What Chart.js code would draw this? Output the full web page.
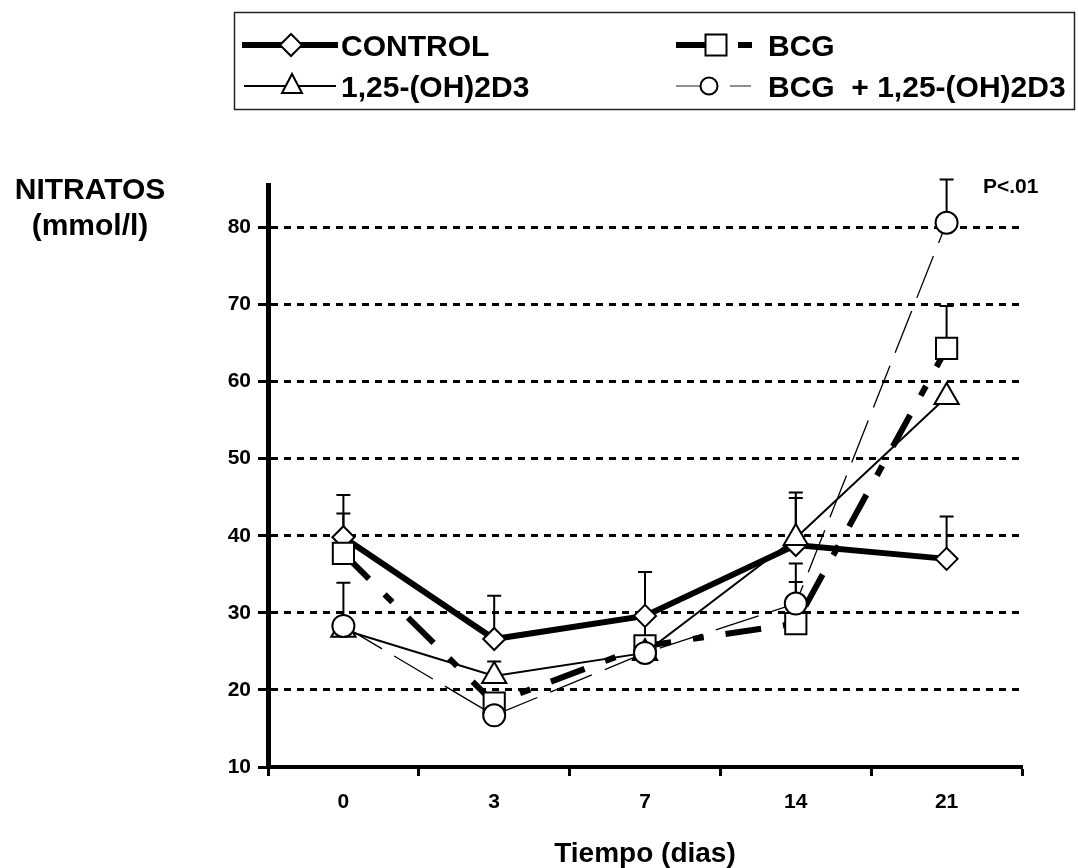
<!DOCTYPE html>
<html>
<head>
<meta charset="utf-8">
<script src="https://cdn.jsdelivr.net/npm/chart.js@4.4.1/dist/chart.umd.min.js"></script>
<style>
  html, body { margin: 0; padding: 0; background: #fff; }
  #wrap { width: 1078px; height: 868px; position: relative; }
</style>
</head>
<body>
<div id="wrap"><canvas id="c" width="1078" height="868"></canvas></div>
<script>
// ---- data ----
const categories = ['0', '3', '7', '14', '21'];
const yTickValues = [10, 20, 30, 40, 50, 60, 70, 80];

const controlValues = [39.8, 26.6, 29.6, 38.8, 37.0];
const controlErr    = [5.5, 5.6, 5.7, 6.1, 5.5];

const bcgValues = [37.7, 18.3, 25.7, 28.6, 64.3];
const bcgErr    = [5.2, null, 4.0, 5.4, 5.5];

const d3Values = [27.8, 21.8, 24.8, 39.7, 58.0];
const d3Err    = [null, 1.9, null, 5.9, null];

const bcgD3Values = [28.3, 16.7, 24.8, 31.2, 80.6];
const bcgD3Err    = [5.6, null, null, 5.2, 5.6];

const seriesLabels = ['CONTROL', 'BCG', '1,25-(OH)2D3', 'BCG  + 1,25-(OH)2D3'];
const errorSets = [controlErr, bcgErr, d3Err, bcgD3Err];

const FONT = "'Liberation Sans', Arial, Helvetica, sans-serif";

// ---- plugins ----
const errorBars = {
  id: 'errorBars',
  beforeDatasetsDraw(chart) {
    const ctx = chart.ctx;
    const yScale = chart.scales.y;
    chart.data.datasets.forEach((ds, i) => {
      const meta = chart.getDatasetMeta(i);
      const errs = errorSets[i];
      ctx.save();
      ctx.strokeStyle = '#000';
      ctx.lineWidth = 2;
      ctx.setLineDash([]);
      meta.data.forEach((pt, j) => {
        if (errs[j] == null) return;
        const top = yScale.getPixelForValue(ds.data[j] + errs[j]);
        ctx.beginPath();
        ctx.moveTo(pt.x, pt.y);
        ctx.lineTo(pt.x, top);
        ctx.moveTo(pt.x - 7, top);
        ctx.lineTo(pt.x + 7, top);
        ctx.stroke();
      });
      ctx.restore();
    });
  }
};

function marker(ctx, style, x, y, r) {
  ctx.save();
  ctx.setLineDash([]);
  ctx.fillStyle = '#fff';
  ctx.strokeStyle = '#000';
  ctx.lineWidth = 2;
  ctx.beginPath();
  if (style === 'rectRot') {
    ctx.moveTo(x - r, y); ctx.lineTo(x, y - r); ctx.lineTo(x + r, y); ctx.lineTo(x, y + r); ctx.closePath();
  } else if (style === 'rect') {
    ctx.rect(x - r, y - r, 2 * r, 2 * r);
  } else if (style === 'triangle') {
    ctx.moveTo(x, y - r * 1.2); ctx.lineTo(x + r, y + r * 0.7); ctx.lineTo(x - r, y + r * 0.7); ctx.closePath();
  } else {
    ctx.arc(x, y, r, 0, Math.PI * 2);
  }
  ctx.fill();
  ctx.stroke();
  ctx.restore();
}

function seg(ctx, x1, x2, y, w, color) {
  ctx.save();
  ctx.setLineDash([]);
  ctx.strokeStyle = color || '#000';
  ctx.lineWidth = w;
  ctx.beginPath();
  ctx.moveTo(x1, y); ctx.lineTo(x2, y);
  ctx.stroke();
  ctx.restore();
}

const decorations = {
  id: 'decorations',
  afterDraw(chart) {
    const ctx = chart.ctx;
    ctx.save();
    ctx.fillStyle = '#000';
    ctx.textBaseline = 'alphabetic';

    // y-axis title (horizontal, top-left)
    ctx.font = 'bold 30px ' + FONT;
    ctx.textAlign = 'center';
    ctx.fillText('NITRATOS', 90, 199);
    ctx.fillText('(mmol/l)', 90, 235);

    // significance note
    ctx.font = 'bold 21px ' + FONT;
    ctx.textAlign = 'left';
    ctx.fillText('P<.01', 983, 193);

    // legend box
    ctx.strokeStyle = '#222';
    ctx.lineWidth = 1.5;
    ctx.strokeRect(234.5, 12.5, 840, 97);

    const r1 = 45, r2 = 86;
    // CONTROL
    seg(ctx, 242, 338, r1, 6);
    marker(ctx, 'rectRot', 291, r1, 11);
    // BCG
    seg(ctx, 676, 706, r1, 6);
    marker(ctx, 'rect', 716, r1, 10.5);
    seg(ctx, 738, 752, r1, 6);
    // 1,25-(OH)2D3
    seg(ctx, 244, 336, r2, 2);
    marker(ctx, 'triangle', 292, r2, 10);
    // BCG + 1,25
    seg(ctx, 676, 700, r2, 1.2, '#444');
    marker(ctx, 'circle', 709, r2, 8.5);
    seg(ctx, 730, 751, r2, 1.2, '#444');

    ctx.font = 'bold 30px ' + FONT;
    ctx.fillStyle = '#000';
    ctx.textAlign = 'left';
    ctx.fillText(seriesLabels[0], 341, r1 + 11);
    ctx.fillText(seriesLabels[1], 768, r1 + 11);
    ctx.fillText(seriesLabels[2], 341, r2 + 11);
    ctx.fillText(seriesLabels[3], 768, r2 + 11);
    ctx.restore();
  }
};

// ---- chart ----
const ds = (label, data, style, radius, width, dash, order) => ({
  label, data,
  borderColor: '#000',
  borderWidth: width,
  borderDash: dash,
  borderCapStyle: 'butt',
  fill: false,
  tension: 0,
  pointStyle: style,
  pointRadius: radius,
  pointHoverRadius: radius,
  pointBackgroundColor: '#fff',
  pointBorderColor: '#000',
  pointBorderWidth: 2,
  order
});

new Chart(document.getElementById('c'), {
  type: 'line',
  data: {
    labels: categories,
    datasets: [
      ds(seriesLabels[0], controlValues, 'rectRot', 11, 6, [], 4),
      ds(seriesLabels[1], bcgValues, 'rect', 15, 6, [36, 22, 11, 22], 3),
      ds(seriesLabels[2], d3Values, 'triangle', 14, 2, [], 2),
      ds(seriesLabels[3], bcgD3Values, 'circle', 11, 1.3, [45, 14], 1)
    ]
  },
  options: {
    responsive: false,
    animation: false,
    events: [],
    layout: { padding: { left: 0, top: 185, right: 56, bottom: 0 } },
    plugins: { legend: { display: false }, tooltip: { enabled: false }, title: { display: false } },
    scales: {
      x: {
        type: 'category',
        offset: true,
        grid: { offset: true, drawOnChartArea: false, drawTicks: true, tickLength: 9, tickWidth: 3, tickColor: '#000' },
        border: { display: true, color: '#000', width: 4 },
        ticks: { color: '#000', font: { family: FONT, weight: 'bold', size: 21 }, padding: 14, maxRotation: 0 },
        title: { display: true, text: 'Tiempo (dias)', color: '#000', font: { family: FONT, weight: 'bold', size: 28, lineHeight: 1 }, padding: { top: 0, bottom: 0 } },
        afterFit: s => { s.height = 101; }
      },
      y: {
        min: 10,
        max: 85.5,
        afterBuildTicks: s => { s.ticks = yTickValues.map(v => ({ value: v })); },
        grid: {
          color: c => (c.tick && c.tick.value === 10) ? 'rgba(0,0,0,0)' : '#000',
          lineWidth: 3,
          drawTicks: true,
          tickLength: 10,
          tickWidth: 3,
          tickColor: '#000'
        },
        border: { display: true, color: '#000', width: 5, dash: [7, 6] },
        ticks: { color: '#000', font: { family: FONT, weight: 'bold', size: 21 }, padding: 7 },
        afterFit: s => { s.width = 268; }
      }
    }
  },
  plugins: [errorBars, decorations]
});
</script>
</body>
</html>
